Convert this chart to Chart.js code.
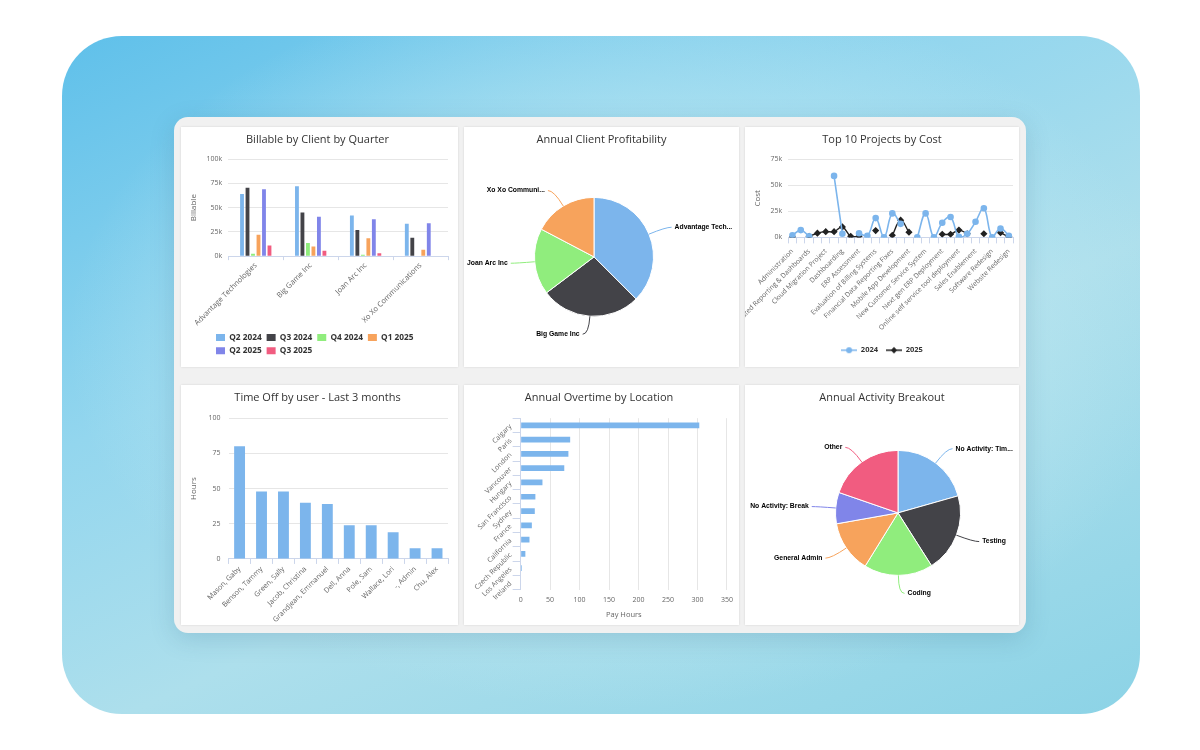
<!DOCTYPE html>
<html>
<head>
<meta charset="utf-8">
<title>Dashboard</title>
<script src="https://cdn.jsdelivr.net/npm/chart.js@4.4.1/dist/chart.umd.min.js"></script>
<style>
  html, body { margin: 0; padding: 0; width: 1200px; height: 750px; background: #fff; overflow: hidden; }
  .backdrop {
    position: absolute; left: 62px; top: 36px; width: 1078px; height: 678px; border-radius: 60px;
    background:
      radial-gradient(ellipse at 52% 45%, rgba(214,240,246,0.95) 0%, rgba(196,235,243,0.6) 35%, rgba(170,224,238,0) 70%),
      linear-gradient(155deg, #5fc0ea 0%, #93d6ee 35%, #addfec 60%, #8cd3e6 100%);
  }
  .panel {
    position: absolute; left: 174px; top: 117px; width: 852px; height: 516px; border-radius: 14px;
    background: #f1f1f1; box-shadow: 0 6px 24px rgba(40, 90, 120, 0.18);
  }
  .card { position: absolute; background: #fff; box-shadow: 0 0 2px rgba(0,0,0,0.12); }
  .card canvas { display: block; }
</style>
</head>
<body>
<div class="backdrop"></div>
<div class="panel"></div>
<div class="card" style="left:181px; top:127px; width:277px; height:240px;"><canvas id="billableChart"></canvas></div>
<div class="card" style="left:464px; top:127px; width:275px; height:240px;"><canvas id="profitChart"></canvas></div>
<div class="card" style="left:745px; top:127px; width:274px; height:240px;"><canvas id="projectChart"></canvas></div>
<div class="card" style="left:181px; top:385px; width:277px; height:240px;"><canvas id="timeOffChart"></canvas></div>
<div class="card" style="left:464px; top:385px; width:275px; height:240px;"><canvas id="overtimeChart"></canvas></div>
<div class="card" style="left:745px; top:385px; width:274px; height:240px;"><canvas id="activityChart"></canvas></div>

<script>
// --- data ---
const clients = ['Advantage Technologies', 'Big Game Inc', 'Joan Arc Inc', 'Xo Xo Communications'];
const quarters = ['Q2 2024', 'Q3 2024', 'Q4 2024', 'Q1 2025', 'Q2 2025', 'Q3 2025'];
const billQ2_2024 = [64000, 72000, 42000, 33500];
const billQ3_2024 = [70500, 45000, 27000, 19000];
const billQ4_2024 = [2500, 13500, 1500, null];
const billQ1_2025 = [22000, 10000, 18500, 6500];
const billQ2_2025 = [69000, 40500, 38000, 34000];
const billQ3_2025 = [11000, 5500, 3000, null];

const profitClients = ['Advantage Technologies', 'Big Game Inc', 'Joan Arc Inc', 'Xo Xo Communications'];
const profitShare = [37.5, 27.2, 18, 17.3];

const projects = [
  'Administration', 'API Integration', 'Automated Reporting & Dashboards', 'Billing Upgrade',
  'Cloud Migration Project', 'Custom Integrations', 'Dashboarding', 'Data Warehouse',
  'ERP Assessment', 'ERP Support', 'Evaluation of Billing Systems', 'Financial Audit Support',
  'Financial Data Reporting Fixes', 'Internal Tools', 'Mobile App Development', 'Network Upgrade',
  'New Customer Service System', 'New Website Launch', 'Next gen ERP Deployment', 'Office Relocation',
  'Online self service tool deployment', 'Reporting Enhancements', 'Sales Enablement', 'Security Audit',
  'Software Redesign', 'Training Program', 'Website Redesign'
];
const cost2024 = [2000, 7000, 1000, null, null, 59000, 3500, null, 4000, 1500, 18500, 0, 23000, 13000,
  null, 0, 23000, 0, 14000, 19500, 500, 3500, 15000, 28000, 0, 8500, 1500];
const cost2025 = [300, null, 1000, 4000, 5500, 5500, 10000, 1000, 1000, null, 6500, null, 2000, 16500,
  5000, null, null, null, 3000, 3000, 7000, 3500, null, 3500, null, 4500, 500];

const users = ['Mason, Gaby', 'Benson, Tammy', 'Green, Sally', 'Jacob, Christina', 'Grandjean, Emmanuel',
  'Dell, Anna', 'Pole, Sam', 'Wallace, Lori', '-, Admin', 'Chu, Alex'];
const timeOffHours = [80, 48, 48, 40, 39, 24, 24, 19, 7.5, 7.5];

const locations = ['Calgary', 'Paris', 'London', 'Vancouver', 'Hungary', 'San Francisco', 'Sydney',
  'France', 'California', 'Czech Republic', 'Los Angeles', 'Ireland'];
const overtimeHours = [303, 84, 81, 74, 37, 25, 24, 19, 15, 8, 2, 0];

const activities = ['No Activity: Time Off', 'Testing', 'Coding', 'General Admin', 'No Activity: Break', 'Other'];
const activityShare = [20.6, 20.4, 17.8, 13.4, 8.1, 19.7];

const COLORS = ['#7cb5ec', '#434348', '#90ed7d', '#f7a35c', '#8085e9', '#f15c80'];

Chart.defaults.font.family = '"Open Sans", sans-serif';
Chart.defaults.color = '#666';
Chart.defaults.animation = false;
Chart.defaults.plugins.tooltip.enabled = false;

function titleOpts(text, bottom) {
  return { display: true, text: text, color: '#333', font: { size: 11, weight: 'normal' }, padding: { top: 6, bottom: bottom } };
}
const kTicks = v => (v / 1000) + 'k';
const tickFont = { size: 7 };
const axisTitle = t => ({ display: true, text: t, color: '#666', font: { size: 8 }, padding: 2 });

// moves the bottom legend so rows start at a fixed x
const legendInset = {
  id: 'legendInset',
  beforeDraw(chart, args, opts) {
    if (opts.left == null) return;
    chart.legend.left = opts.left;
    chart.legend.right = opts.right;
  }
};

// pie charts pad the sides to place the pie; keep the title over the whole card
const fullTitle = {
  id: 'fullTitle',
  beforeDraw(chart) {
    chart.titleBlock.left = 0;
    chart.titleBlock.right = chart.width;
    chart.titleBlock.width = chart.width;
  }
};

// pie labels with connectors, highcharts style
function shorten(ctx, text, maxW) {
  if (ctx.measureText(text).width <= maxW) return text;
  let t = text;
  while (t.length > 1 && ctx.measureText(t + '...').width > maxW) t = t.slice(0, -1);
  return t + '...';
}
const pieLabels = {
  id: 'pieLabels',
  afterDatasetsDraw(chart) {
    const ctx = chart.ctx;
    const meta = chart.getDatasetMeta(0);
    const colors = chart.data.datasets[0].backgroundColor;
    ctx.save();
    ctx.font = 'bold 6.8px "Liberation Sans", Arial, sans-serif';
    ctx.textBaseline = 'middle';
    meta.data.forEach((arc, i) => {
      const p = arc.getProps(['x', 'y', 'startAngle', 'endAngle', 'outerRadius'], true);
      const mid = (p.startAngle + p.endAngle) / 2;
      const cos = Math.cos(mid), sin = Math.sin(mid);
      const r = p.outerRadius;
      const x0 = p.x + cos * r, y0 = p.y + sin * r;
      const x1 = p.x + cos * (r + 18), y1 = p.y + sin * (r + 18);
      const right = cos >= 0;
      const x2 = x1 + (right ? 6 : -6);
      ctx.strokeStyle = colors[i];
      ctx.lineWidth = 1;
      ctx.beginPath();
      ctx.moveTo(x0, y0);
      ctx.quadraticCurveTo(x1, y1, x2, y1);
      ctx.stroke();
      ctx.fillStyle = '#000';
      ctx.textAlign = right ? 'left' : 'right';
      ctx.fillText(shorten(ctx, chart.data.labels[i], 59), x2 + (right ? 3 : -3), y1);
    });
    ctx.restore();
  }
};

function legendIcon(color, style) {
  const c = document.createElement('canvas');
  c.width = 16; c.height = 8;
  const g = c.getContext('2d');
  g.strokeStyle = color; g.fillStyle = color; g.lineWidth = 1.5;
  g.beginPath(); g.moveTo(0, 4); g.lineTo(16, 4); g.stroke();
  g.beginPath();
  if (style === 'circle') {
    g.arc(8, 4, 3, 0, Math.PI * 2);
  } else {
    g.moveTo(8, 0.8); g.lineTo(11.2, 4); g.lineTo(8, 7.2); g.lineTo(4.8, 4); g.closePath();
  }
  g.fill();
  return c;
}

// --- Billable by Client by Quarter ---
const billableSeries = [billQ2_2024, billQ3_2024, billQ4_2024, billQ1_2025, billQ2_2025, billQ3_2025];
new Chart(document.getElementById('billableChart'), {
  type: 'bar',
  data: {
    labels: clients,
    datasets: quarters.map((q, i) => ({
      label: q,
      data: billableSeries[i],
      backgroundColor: COLORS[i],
      categoryPercentage: 0.6,
      barPercentage: 0.7
    }))
  },
  options: {
    responsive: true,
    maintainAspectRatio: false,
    layout: { padding: { left: 6, right: 10, bottom: 2 } },
    plugins: {
      title: titleOpts('Billable by Client by Quarter', 13),
      legend: {
        position: 'bottom', align: 'start',
        labels: { boxWidth: 9, boxHeight: 7, padding: 5, color: '#333', font: { size: 8.3, weight: 'bold' } }
      },
      legendInset: { left: 30, right: 270 }
    },
    scales: {
      x: {
        grid: { drawOnChartArea: false, drawTicks: true, tickLength: 4, color: '#ccd6eb', offset: true },
        border: { color: '#ccd6eb' },
        ticks: { font: { size: 7.5 }, maxRotation: 45, minRotation: 45, autoSkip: false, padding: 1 }
      },
      y: {
        min: 0, max: 100000,
        ticks: { stepSize: 25000, callback: kTicks, font: tickFont, padding: 6 },
        grid: { color: '#e6e6e6', drawTicks: false },
        border: { display: false },
        title: axisTitle('Billable')
      }
    }
  },
  plugins: [legendInset]
});

// --- Annual Client Profitability ---
new Chart(document.getElementById('profitChart'), {
  type: 'pie',
  data: {
    labels: profitClients,
    datasets: [{ data: profitShare, backgroundColor: COLORS.slice(0, 4), borderColor: '#fff', borderWidth: 1 }]
  },
  options: {
    responsive: true,
    maintainAspectRatio: false,
    layout: { padding: { left: 70, right: 85, top: 0, bottom: 50 } },
    plugins: {
      title: titleOpts('Annual Client Profitability', 50.6),
      legend: { display: false }
    }
  },
  plugins: [fullTitle, pieLabels]
});

// --- Top 10 Projects by Cost ---
const lineIcons = [legendIcon('#7cb5ec', 'circle'), legendIcon('#222', 'diamond')];
new Chart(document.getElementById('projectChart'), {
  type: 'line',
  data: {
    labels: projects,
    datasets: [
      {
        label: '2024', data: cost2024, borderColor: '#7cb5ec', backgroundColor: '#7cb5ec',
        borderWidth: 1.6, pointRadius: 2.5, pointStyle: 'circle', tension: 0.4
      },
      {
        label: '2025', data: cost2025, borderColor: '#222', backgroundColor: '#222',
        borderWidth: 1.4, pointRadius: 2.6, pointStyle: 'rectRot', tension: 0.4
      }
    ]
  },
  options: {
    responsive: true,
    maintainAspectRatio: false,
    layout: { padding: { left: 6, right: 6, bottom: 3 } },
    plugins: {
      title: titleOpts('Top 10 Projects by Cost', 13),
      legend: {
        position: 'bottom',
        labels: {
          usePointStyle: true, pointStyleWidth: 16, padding: 8, color: '#333',
          font: { size: 7.5, weight: 'bold' },
          generateLabels(chart) {
            const items = Chart.defaults.plugins.legend.labels.generateLabels(chart);
            items.forEach((it, i) => { it.pointStyle = lineIcons[i]; });
            return items;
          }
        }
      }
    },
    scales: {
      x: {
        offset: true,
        grid: { drawOnChartArea: false, drawTicks: true, tickLength: 6, color: '#ccd6eb', offset: true },
        border: { color: '#ccd6eb' },
        ticks: {
          font: { size: 6.8 }, maxRotation: 45, minRotation: 45, autoSkip: false, padding: 4,
          callback(val, i) { return i % 2 === 0 ? this.getLabelForValue(val) : ''; }
        }
      },
      y: {
        min: 0, max: 75000,
        ticks: { stepSize: 25000, callback: kTicks, font: tickFont, padding: 6 },
        grid: { color: '#e6e6e6', drawTicks: false },
        border: { display: false },
        title: axisTitle('Cost')
      }
    }
  }
});

// --- Time Off by user ---
new Chart(document.getElementById('timeOffChart'), {
  type: 'bar',
  data: {
    labels: users,
    datasets: [{ label: 'Hours', data: timeOffHours, backgroundColor: COLORS[0], categoryPercentage: 0.8, barPercentage: 0.62 }]
  },
  options: {
    responsive: true,
    maintainAspectRatio: false,
    layout: { padding: { left: 6, right: 10, bottom: 0 } },
    plugins: {
      title: titleOpts('Time Off by user - Last 3 months', 14),
      legend: { display: false }
    },
    scales: {
      x: {
        grid: { drawOnChartArea: false, drawTicks: true, tickLength: 5, color: '#ccd6eb', offset: true },
        border: { color: '#ccd6eb' },
        ticks: { font: { size: 7.2 }, maxRotation: 45, minRotation: 45, autoSkip: false, padding: 1 }
      },
      y: {
        min: 0, max: 100,
        ticks: { stepSize: 25, font: tickFont, padding: 8 },
        grid: { color: '#e6e6e6', drawTicks: false },
        border: { display: false },
        title: axisTitle('Hours')
      }
    }
  }
});

// --- Annual Overtime by Location ---
new Chart(document.getElementById('overtimeChart'), {
  type: 'bar',
  data: {
    labels: locations,
    datasets: [{ label: 'Pay Hours', data: overtimeHours, backgroundColor: COLORS[0], categoryPercentage: 0.8, barPercentage: 0.5 }]
  },
  options: {
    indexAxis: 'y',
    responsive: true,
    maintainAspectRatio: false,
    layout: { padding: { left: 4, right: 9, bottom: 6 } },
    plugins: {
      title: titleOpts('Annual Overtime by Location', 14),
      legend: { display: false }
    },
    scales: {
      y: {
        grid: { drawOnChartArea: false, drawTicks: true, tickLength: 8, color: '#ccd6eb', offset: true },
        border: { color: '#ccd6eb' },
        ticks: { font: tickFont, minRotation: 45, maxRotation: 45, autoSkip: false, padding: 2 }
      },
      x: {
        min: 0, max: 350,
        ticks: { stepSize: 50, font: tickFont, padding: 6 },
        grid: { color: '#e6e6e6', drawTicks: false },
        border: { display: false },
        title: { display: true, text: 'Pay Hours', color: '#666', font: { size: 7.5 }, padding: 0 }
      }
    }
  }
});

// --- Annual Activity Breakout ---
new Chart(document.getElementById('activityChart'), {
  type: 'pie',
  data: {
    labels: activities,
    datasets: [{ data: activityShare, backgroundColor: COLORS, borderColor: '#fff', borderWidth: 1 }]
  },
  options: {
    responsive: true,
    maintainAspectRatio: false,
    layout: { padding: { left: 90, right: 58, top: 0, bottom: 49 } },
    plugins: {
      title: titleOpts('Annual Activity Breakout', 45.6),
      legend: { display: false }
    }
  },
  plugins: [fullTitle, pieLabels]
});
</script>
</body>
</html>
